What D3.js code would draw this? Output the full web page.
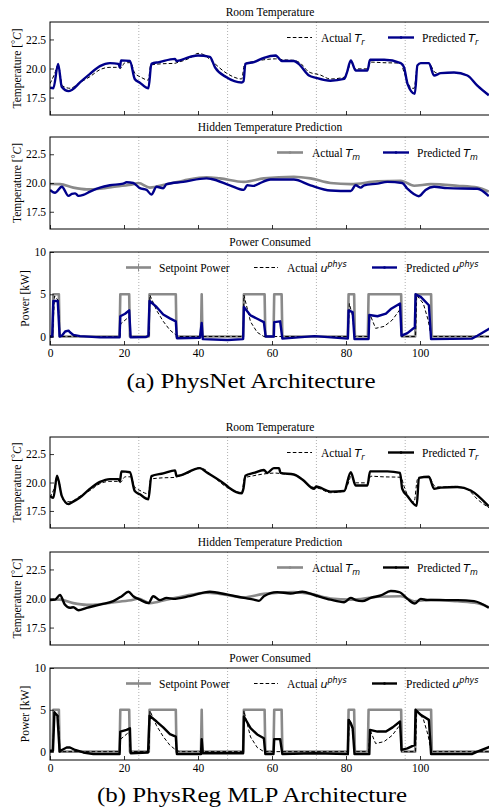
<!DOCTYPE html>
<html>
<head>
<meta charset="utf-8">
<script src="https://cdn.jsdelivr.net/npm/d3@7"></script>
<style>
body{margin:0;background:#fff}
svg{display:block}
text{font-family:"Liberation Serif","Times New Roman",serif;fill:#000}
</style>
</head>
<body>
<svg id="fig" width="489" height="810"></svg>
<script>
// values as [hour, value] pairs

// room temperature, actual (same test data in both halves)
const trActual = [[0,18.7],[1.2,19.5],[2.2,20.3],[3.4,18.5],[5.4,18.3],[8.1,18.8],[10.8,19.3],[13.5,19.9],[16.2,20.1],[18.5,20.1],[19,20.0],[20.3,20.5],[21.8,20.5],[22.9,19.6],[24.3,19.3],[26.6,19.0],[27.2,20.3],[30,20.4],[33.8,20.45],[34.3,20.5],[37.8,20.9],[40,21.3],[41.5,21.2],[43.5,20.7],[47.7,19.6],[51.8,19.1],[52.6,20.4],[55.1,20.6],[57.8,20.75],[61,20.83],[63,20.75],[65.9,20.7],[67.5,20.5],[70,19.7],[73,19.45],[75.8,19.1],[79.5,19.25],[80.8,20.1],[81.3,20.55],[82.6,19.97],[85.8,19.97],[86.7,20.55],[90,20.5],[94.8,20.46],[95.7,19.66],[97.8,18.3],[98.4,18.3],[99.3,20.27],[100.2,20.46],[102.4,20.46],[104.1,19.66],[105.6,19.6],[109.2,19.66],[112.8,19.4],[115.5,18.53],[119,17.7]];
// room temperature, PhysNet prediction
const trPhysNet = [[0,18.34],[0.9,18.3],[2.2,20.4],[3.2,18.4],[5,18.05],[5.9,18.15],[8.1,18.8],[10.8,19.54],[13.5,20.2],[16.2,20.46],[18.5,20.4],[18.9,20.1],[19.2,20.7],[21.6,20.65],[22.9,19.1],[24.2,18.8],[26.6,18.3],[27.4,20.4],[29.5,20.55],[33.8,20.83],[34.2,20.65],[37.8,21.0],[40,21.12],[43.2,21.0],[44.6,20.1],[47.7,19.25],[51.8,18.8],[52.3,18.9],[52.8,20.4],[55.1,20.55],[57.8,20.92],[61,21.12],[61.5,21.0],[62.7,20.65],[65.9,20.65],[67.2,20.4],[70,19.4],[71.9,19.2],[75.8,18.95],[79.5,19.1],[80.2,19.6],[81.3,20.7],[82.6,19.83],[85.8,19.83],[86.5,20.75],[90.3,20.75],[94.8,20.46],[95.7,20.1],[96.6,18.7],[98.6,17.82],[99.3,20.27],[100.2,20.46],[102.4,20.46],[103.8,19.4],[105.6,19.6],[109.2,19.66],[112.8,19.4],[115.5,18.53],[118.6,17.7]];
// room temperature, PhysReg MLP prediction
const trPhysReg = [[0,18.82],[0.9,18.65],[1.9,20.6],[3.2,18.8],[5,18.1],[5.9,18.25],[8.1,18.68],[10.8,19.45],[13.5,20.05],[16.2,20.3],[18.5,20.3],[18.9,20.1],[19.3,20.98],[21.6,20.9],[22.9,19.25],[24.3,18.96],[26.6,18.53],[27.4,20.56],[30.6,20.8],[33.8,21.07],[34.2,20.56],[40.5,21.26],[42.3,20.9],[47.7,19.74],[48.6,19.5],[51.8,19.05],[52.3,19.5],[52.8,20.6],[55.1,20.84],[57.8,21.1],[58.7,20.84],[60.5,21.26],[61.9,21.26],[62.3,20.84],[65.9,20.7],[68.2,20.27],[71.4,19.45],[71.9,19.65],[75.8,19.2],[79.5,19.25],[81.3,20.9],[82.6,19.74],[85.8,19.74],[86.5,20.98],[91.2,20.98],[94.6,20.84],[95.2,19.45],[96.6,18.82],[99.1,17.96],[99.7,20.4],[102.4,20.5],[103.8,19.45],[105.6,19.55],[110.1,19.6],[113.7,19.3],[118.6,17.9]];

// hidden (mass) temperature
const tmActual = [[0,19.91],[2.7,19.9],[6.3,19.6],[9.9,19.45],[13.5,19.5],[18,19.7],[22.5,19.9],[23.9,20.0],[27,19.6],[31.5,19.9],[36,20.2],[42.3,20.5],[45.9,20.4],[52.4,20.1],[57.8,20.4],[65.9,20.55],[70.4,20.4],[75.8,20.0],[81.3,19.9],[88.5,20.15],[94.8,20.2],[98.4,19.76],[102.9,19.9],[110.1,19.76],[115.5,19.6],[118.6,19.25]];
const tmPhysNet = [[0,19.4],[1.35,19.15],[3.2,19.67],[5,18.88],[5.9,19.05],[6.8,19.1],[7.7,18.88],[9,18.97],[10.8,19.25],[13.5,19.6],[16.2,19.8],[19.8,19.95],[20.7,20.07],[22.5,20.0],[24.3,19.55],[26.1,19.4],[27.4,19.0],[28.8,19.67],[30.6,19.55],[31.5,19.9],[36,20.1],[42.3,20.4],[43.6,20.35],[48.6,19.8],[52.4,19.4],[53.3,19.8],[55.1,19.75],[56.5,19.95],[59.6,20.3],[65.9,20.3],[70.4,19.8],[75.8,19.35],[81.3,19.3],[82.6,19.8],[84,19.6],[84.9,19.8],[88.5,19.95],[91.2,20.1],[95.2,20.0],[96.6,19.5],[99.7,18.85],[101.5,19.4],[103.8,19.67],[107.4,19.55],[115.5,19.5],[118.6,18.85]];
const tmPhysReg = [[0,19.86],[1.35,19.9],[2.7,20.3],[4,19.48],[5.4,19.2],[6.3,19.25],[7.7,18.99],[9.9,19.2],[13.5,19.48],[17.1,19.77],[19.4,20.2],[21.2,20.58],[22.5,20.2],[24.3,19.9],[26.6,19.6],[27.9,20.2],[29.7,19.86],[31.5,20.05],[33.3,19.97],[37.8,20.2],[43.2,20.58],[47.7,20.35],[52.4,20.05],[55.1,19.9],[56.5,19.8],[57.8,20.2],[61.4,20.55],[65,20.43],[68.2,20.58],[71.4,20.3],[75.8,19.9],[79.5,19.68],[81.3,20.05],[82.6,19.86],[84.4,19.77],[86.7,20.05],[89.4,20.26],[92.1,20.64],[94.4,20.55],[96.6,19.97],[98.6,19.57],[100.2,19.97],[102,19.86],[110.1,19.86],[114.6,19.77],[118.6,19.2]];

// power [kW]
const powSetpoint = [[0,0],[0.7,0],[0.9,5],[2.4,5],[2.6,0],[18.8,0],[19,5],[21.4,5],[21.6,0],[26.7,0],[26.9,5],[34,5],[34.2,0],[40.8,0],[41,5],[41.2,0],[52.2,0],[52.4,5],[58,5],[58.2,0],[60.4,0],[60.6,5],[62.6,5],[62.8,0],[80.5,0],[80.7,5],[82.2,5],[82.4,0],[85.9,0],[86.1,5],[94.9,5],[95.1,0],[98.7,0],[98.9,5],[103,5],[103.2,0],[119,0]];
const powActual = [[0,0],[0.7,0],[1.2,4.8],[2.2,4.3],[2.7,0],[18.9,0],[19.1,1.5],[21.4,2.35],[21.7,0],[26.8,0],[27,4.9],[28.8,3.1],[30.6,1.8],[32.4,0.77],[34,0.2],[35,0],[52.2,0],[52.4,4.9],[54.2,1.75],[56,0.5],[57.8,0],[80.6,0],[80.9,3.9],[81.8,2.4],[82.3,0],[86.1,0],[86.5,2.6],[88,0.97],[90.3,1.2],[92.5,1.95],[94.6,3.2],[95,0],[98.8,0],[99.1,4.9],[100.9,3.9],[102.2,1.95],[103,0],[119,0]];
const powPhysNet = [[0,0],[0.6,0],[0.9,4.2],[2.1,4.2],[2.6,0],[3.2,0.1],[4.1,0.6],[5,0.7],[5.4,0.5],[6.3,0.2],[8.1,0.05],[13.5,-0.1],[18.8,-0.1],[19,2.4],[20.3,2.7],[21.4,3.1],[21.8,-0.1],[26,-0.05],[26.6,0.1],[26.9,4.2],[28.8,3.5],[30.6,2.6],[32.4,2.15],[34,1.8],[34.3,-0.2],[40.5,-0.15],[41,1.6],[41.3,-0.3],[48,-0.4],[52.2,-0.3],[52.4,3.5],[54.2,2.5],[56,2.1],[57.8,1.7],[58.3,0],[60.5,0],[60.6,1.7],[62.2,1.8],[62.8,-0.25],[71.5,0.05],[80.5,-0.25],[80.7,3.1],[81.8,2.9],[82.3,-0.3],[86.1,-0.3],[86.3,2.55],[88.5,2.4],[90.8,2.7],[92.1,3.25],[94.6,3.9],[95,0.1],[96.6,0.4],[98.6,1.1],[98.8,5.0],[100.2,4.7],[102.4,3.7],[103,-0.3],[114,-0.25],[115.5,0.1],[119,1.0]];
const powPhysReg = [[0,0.1],[0.8,0.1],[1.2,4.7],[2,4.3],[2.6,0],[3.2,0.2],[4.5,0.5],[5.4,0.5],[6.8,0.2],[9,-0.1],[11.7,-0.3],[18.8,-0.3],[19,2.4],[20.7,2.6],[21.6,2.8],[21.8,-0.2],[26.5,-0.1],[26.9,4.3],[28.8,3.6],[30.6,2.9],[32.4,2.1],[34,1.8],[34.3,-0.3],[40.8,-0.3],[41,1.5],[41.3,-0.2],[52.2,-0.2],[52.4,4.2],[54.2,2.8],[56,2.05],[57.8,1.6],[58.2,-0.3],[60.4,-0.3],[60.6,1.5],[62.2,1.5],[62.8,-0.3],[71.5,-0.2],[80.5,-0.3],[80.7,3.8],[81.3,3.4],[81.8,2.8],[82.3,-0.3],[86.3,-0.3],[86.5,2.6],[88.5,2.4],[90.8,2.4],[92.6,2.9],[94.6,3.6],[95,0.2],[96.6,0.4],[98.6,0.8],[98.8,5.0],[100.2,4.4],[102.4,3.8],[103,-0.3],[114,-0.3],[115.5,0],[119,0.6]];

const dayMarks = [24, 48, 72, 96];
const hourTicks = [0, 20, 40, 60, 80, 100];
const tempTicks = [17.5, 20, 22.5];
const powTicks = [0, 5, 10];

const captions = ["(a)  PhysNet Architecture", "(b)  PhysReg MLP Architecture"];

// styles
const BLUE = "#00008b", GRAY = "#8a8a8a";
const sty = {
  dash: {stroke: "#000", width: 1, dash: "3.6,2.2"},
  gray: {stroke: GRAY, width: 2.6},
  blue: {stroke: BLUE, width: 2.4},
  black: {stroke: "#000", width: 2.4}
};

const svg = d3.select("#fig");
const x = d3.scaleLinear().domain([0, 119]).range([50, 490.3]);

// math text bits: [text, kind] kind: n normal, m math italic, b subscript, p superscript
function lab(pre, sym, sub, sup) {
  const a = [[pre, "n"], [sym, "m"]];
  if (sub) a.push([sub, "b"]);
  if (sup) a.push([sup, "p"]);
  return a;
}

const panels = [
  {top: 22, bot: 115, dom: [16, 24], ticks: tempTicks, fmt: d3.format(".1f"), title: "Room Temperature", yl: "T", xlab: false, smooth: true,
   lines: [[trActual, sty.dash], [trPhysNet, sty.blue]],
   leg: [{x0: 287, x1: 312, tx: 321, s: sty.dash, t: lab("Actual ", "T", "r")},
         {x0: 388, x1: 414, tx: 422, s: sty.blue, dot: true, t: lab("Predicted ", "T", "r")}]},
  {top: 137, bot: 229, dom: [16, 24], ticks: tempTicks, fmt: d3.format(".1f"), title: "Hidden Temperature Prediction", yl: "T", xlab: false, smooth: true,
   lines: [[tmActual, sty.gray], [tmPhysNet, sty.blue]],
   leg: [{x0: 277, x1: 303, tx: 312, s: sty.gray, dot: true, t: lab("Actual ", "T", "m")},
         {x0: 383, x1: 409, tx: 417, s: sty.blue, dot: true, t: lab("Predicted ", "T", "m")}]},
  {top: 252, bot: 345, dom: [-1, 10], ticks: powTicks, fmt: d3.format("d"), title: "Power Consumed", yl: "P", xlab: true, smooth: false,
   lines: [[powSetpoint, sty.gray], [powActual, sty.dash], [powPhysNet, sty.blue]],
   leg: [{x0: 126, x1: 151, tx: 159, s: sty.gray, bar: true, t: [["Setpoint Power", "n"]]},
         {x0: 254, x1: 278, tx: 287, s: sty.dash, t: lab("Actual ", "u", null, "phys")},
         {x0: 372, x1: 397, tx: 406, s: sty.blue, dot: true, t: lab("Predicted ", "u", null, "phys")}]},
  {top: 437, bot: 528, dom: [16, 24], ticks: tempTicks, fmt: d3.format(".1f"), title: "Room Temperature", yl: "T", xlab: false, smooth: true,
   lines: [[trActual, sty.dash], [trPhysReg, sty.black]],
   leg: [{x0: 287, x1: 312, tx: 321, s: sty.dash, t: lab("Actual ", "T", "r")},
         {x0: 388, x1: 414, tx: 422, s: sty.black, dot: true, t: lab("Predicted ", "T", "r")}]},
  {top: 552, bot: 645, dom: [16, 24], ticks: tempTicks, fmt: d3.format(".1f"), title: "Hidden Temperature Prediction", yl: "T", xlab: false, smooth: true,
   lines: [[tmActual, sty.gray], [tmPhysReg, sty.black]],
   leg: [{x0: 277, x1: 303, tx: 312, s: sty.gray, dot: true, t: lab("Actual ", "T", "m")},
         {x0: 383, x1: 409, tx: 417, s: sty.black, dot: true, t: lab("Predicted ", "T", "m")}]},
  {top: 668, bot: 760, dom: [-1, 10], ticks: powTicks, fmt: d3.format("d"), title: "Power Consumed", yl: "P", xlab: true, smooth: false,
   lines: [[powSetpoint, sty.gray], [powActual, sty.dash], [powPhysReg, sty.black]],
   leg: [{x0: 126, x1: 151, tx: 159, s: sty.gray, bar: true, t: [["Setpoint Power", "n"]]},
         {x0: 254, x1: 278, tx: 287, s: sty.dash, t: lab("Actual ", "u", null, "phys")},
         {x0: 372, x1: 397, tx: 406, s: sty.black, dot: true, t: lab("Predicted ", "u", null, "phys")}]}
];

function mathText(sel, parts) {
  parts.forEach(([s, k]) => {
    const t = sel.append("tspan").text(s);
    if (k !== "n") t.style("font-family", "'DejaVu Sans',sans-serif").style("font-style", "italic");
    if (k === "m") t.attr("font-size", 11);
    if (k === "b") t.attr("font-size", 8).attr("dy", 3);
    if (k === "p") t.attr("font-size", 8).attr("dy", -5);
  });
}

function applyStyle(sel, s) {
  sel.attr("fill", "none").attr("stroke", s.stroke).attr("stroke-width", s.width)
     .attr("stroke-linejoin", "round");
  if (s.dash) sel.attr("stroke-dasharray", s.dash);
  return sel;
}

panels.forEach((p, i) => {
  const y = d3.scaleLinear().domain(p.dom).range([p.bot, p.top]);
  const g = svg.append("g");

  g.append("clipPath").attr("id", "clip" + i)
    .append("rect").attr("x", x(0)).attr("y", p.top).attr("width", x(119) - x(0)).attr("height", p.bot - p.top);

  // day separators
  g.selectAll(".day").data(dayMarks).join("line")
    .attr("x1", d => x(d)).attr("x2", d => x(d)).attr("y1", p.top).attr("y2", p.bot)
    .attr("stroke", "#b0b0b0").attr("stroke-width", 1).attr("stroke-dasharray", "1,2");

  // series
  const line = d3.line().x(d => x(d[0])).y(d => y(d[1]))
    .curve(p.smooth ? d3.curveMonotoneX : d3.curveLinear);
  const lg = g.append("g").attr("clip-path", `url(#clip${i})`);
  p.lines.forEach(([data, s]) => applyStyle(lg.append("path").datum(data).attr("d", line), s));

  // axes
  const ya = d3.axisLeft(y).tickValues(p.ticks).tickFormat(p.fmt).tickSize(-4).tickPadding(4);
  const ay = g.append("g").attr("transform", `translate(${x(0)},0)`).call(ya);
  const xa = d3.axisBottom(x).tickValues(hourTicks).tickSize(-4).tickPadding(3.5);
  if (!p.xlab) xa.tickFormat("");
  const ax = g.append("g").attr("transform", `translate(0,${p.bot})`).call(xa);
  [ay, ax].forEach(a => {
    a.select(".domain").remove();
    a.selectAll("line").attr("stroke", "#000").attr("stroke-width", 0.8);
    a.selectAll("text").attr("font-size", 11.5).attr("font-family", "'Liberation Serif',serif");
  });

  // frame
  g.append("rect").attr("x", x(0)).attr("y", p.top).attr("width", x(119) - x(0)).attr("height", p.bot - p.top)
    .attr("fill", "none").attr("stroke", "#000").attr("stroke-width", 1);

  // title
  g.append("text").attr("x", 270).attr("y", p.top - 6).attr("text-anchor", "middle")
    .attr("font-size", 11.5).text(p.title);

  // y label
  const yt = g.append("text").attr("text-anchor", "middle").attr("font-size", 11.5)
    .attr("transform", `translate(${p.yl === "T" ? 21 : 29},${(p.top + p.bot) / 2}) rotate(-90)`);
  if (p.yl === "T") {
    yt.append("tspan").text("Temperature [");
    yt.append("tspan").text("°").attr("font-size", 10).attr("dy", -2);
    yt.append("tspan").text("C").style("font-style", "italic").attr("dy", 2);
    yt.append("tspan").text("]");
  } else {
    yt.text("Power [kW]");
  }

  // legend
  const ly = p.top + 15.5;
  p.leg.forEach(L => {
    applyStyle(g.append("line").attr("x1", L.x0).attr("x2", L.x1).attr("y1", ly).attr("y2", ly), L.s);
    if (L.dot) g.append("circle").attr("cx", (L.x0 + L.x1) / 2).attr("cy", ly).attr("r", 1.3).attr("fill", L.s.stroke);
    if (L.bar) g.append("line").attr("x1", (L.x0 + L.x1) / 2).attr("x2", (L.x0 + L.x1) / 2)
      .attr("y1", ly - 4).attr("y2", ly + 4).attr("stroke", L.s.stroke).attr("stroke-width", 1);
    const t = g.append("text").attr("x", L.tx).attr("y", ly + 4).attr("font-size", 11.5);
    mathText(t, L.t);
  });
});

// sub-figure captions
svg.append("text").attr("x", 251).attr("y", 388).attr("text-anchor", "middle")
  .attr("font-size", 22).attr("textLength", 249).attr("lengthAdjust", "spacingAndGlyphs").text(captions[0]);
svg.append("text").attr("x", 252).attr("y", 802).attr("text-anchor", "middle")
  .attr("font-size", 22).attr("textLength", 310).attr("lengthAdjust", "spacingAndGlyphs").text(captions[1]);
</script>
</body>
</html>
